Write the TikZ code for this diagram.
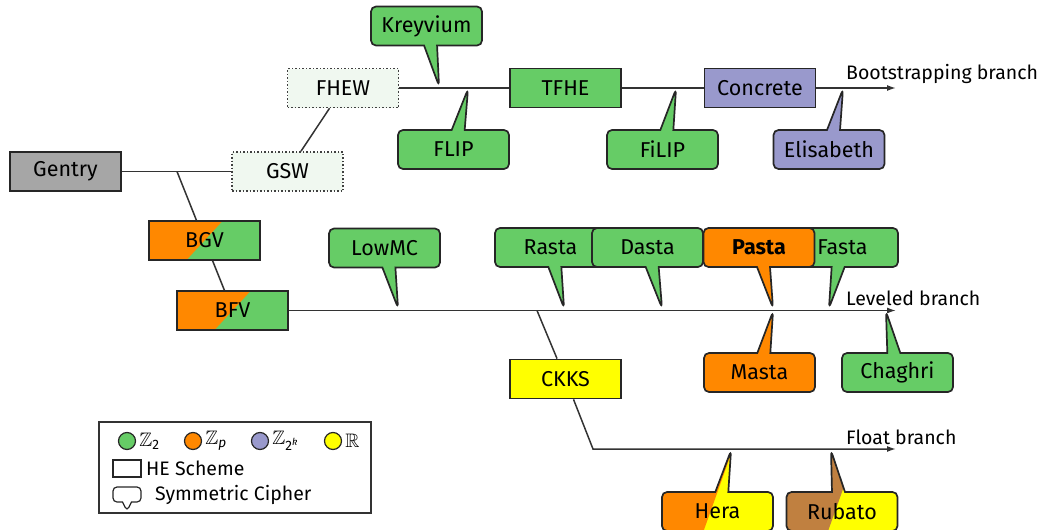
\documentclass[tikz,border=0pt]{standalone}
\usepackage{amsmath}
\usepackage{amssymb}
\usepackage{fontspec}
\setmainfont{Fira Sans}
\usetikzlibrary{shapes.callouts,arrows.meta,calc}

\definecolor{zgreen}{HTML}{66CC66}
\definecolor{zorange}{HTML}{FF8800}
\definecolor{zpurple}{HTML}{9999CC}
\definecolor{zyellow}{HTML}{FFFF00}
\definecolor{zbrown}{HTML}{C08040}
\definecolor{zgray}{HTML}{A6A6A6}
\definecolor{zpale}{HTML}{F0F8F0}

\tikzset{
  scheme/.style={draw=black!85, line width=1.7pt, minimum width=111pt, minimum height=39pt,
    inner sep=0pt, font=\fontsize{21.5}{25}\selectfont},
  newscheme/.style={scheme, draw=black!75, line width=1.5pt, dash pattern=on 1.5pt off 2pt, fill=zpale},
  cipher/.style={rectangle callout, rounded corners=5pt, draw=black!85, line width=1.7pt,
    minimum width=111pt, minimum height=39pt, inner sep=0pt, callout pointer width=13pt,
    fill=zgreen, font=\fontsize{21.5}{25}\selectfont},
  branch/.style={line width=1.5pt, draw=black!80},
  lbl/.style={inner sep=0pt, font=\fontsize{19.5}{23}\selectfont},
  % two colours split by a diagonal
  halves/.style 2 args={fill=#2, path picture={
    \fill[#1, sharp corners] ($(path picture bounding box.center)+(-36,39)$)
      -- ($(path picture bounding box.center)+(36,-39)$) -- ++(-200,0) -- ++(0,78) -- cycle;}},
  halvestip/.style 2 args={fill=#2, path picture={
    \fill[#1, sharp corners] ($(path picture bounding box.south)+(-15,3)$)
      -- ($(path picture bounding box.south)+(15,-81)$) -- ++(-120,0) -- ++(0,84) -- cycle;}},
  dot/.style={circle, draw=black!85, line width=1.2pt, minimum size=17pt, inner sep=0pt},
}

\begin{document}
\begin{tikzpicture}[x=1pt,y=-1pt]
\useasboundingbox (0,0) rectangle (1042,530);
% Draw the HE schemes
\node[scheme, fill=zgray] (gentry) at (65.5,171.5) {Gentry};
\node[newscheme] (gsw) at (287.5,171.5) {GSW};
\node[newscheme] (fhew) at (343,88) {FHEW};
\node[scheme, fill=zgreen] (tfhe) at (565.5,88) {TFHE};
\node[scheme, fill=zpurple] (concrete) at (760,88) {Concrete};
\node[scheme, halves={zorange}{zgreen}] (bgv) at (204.5,240.5) {BGV};
\node[scheme, halves={zorange}{zgreen}] (bfv) at (232.5,310.5) {BFV};
\node[scheme, fill=zyellow] (ckks) at (565.5,379) {CKKS};

% Draw the branches
\coordinate (gentryFork) at (177,171.5);
\coordinate (levFork) at (537,310.5);
\coordinate (floatBend) at (593,449);
\coordinate (bootEnd) at (896,88);
\coordinate (levEnd) at (896,310.5);
\coordinate (floatEnd) at (896,449);
\draw[branch] (gentry) -- (gsw);
\draw[branch] (gentryFork) -- (bgv);
\draw[branch] (bgv) -- (bfv);
\draw[branch] (gsw) -- (fhew);
\draw[branch] (fhew) -- (tfhe);
\draw[branch] (tfhe) -- (concrete);
\draw[branch, -{Latex[length=9pt,width=6pt]}] (concrete) -- (bootEnd);
\draw[branch, -{Latex[length=9pt,width=6pt]}] (bfv) -- (levEnd);
\draw[branch] (levFork) -- (ckks);
\draw[branch, -{Latex[length=9pt,width=6pt]}] (ckks) -- (floatBend) -- (floatEnd);
\node[lbl, anchor=base west] (bootLbl) at (846,79) {Bootstrapping branch};
\node[lbl, anchor=base west] (levLbl) at (846,305) {Leveled branch};
\node[lbl, anchor=base west] (floatLbl) at (846,444) {Float branch};

% Draw the symmetric ciphers
\node[cipher, callout absolute pointer={(439,86)}] (kreyvium) at (426.5,26) {Kreyvium};
\node[cipher, callout absolute pointer={(468,89)}] (flip) at (453.5,149.5) {FLIP};
\node[cipher, callout absolute pointer={(676,89)}] (filip) at (662.5,149.5) {FiLIP};
\node[cipher, fill=zpurple, callout absolute pointer={(843,89)}] (elisabeth) at (829,149.5) {Elisabeth};
\node[cipher, callout absolute pointer={(398,308)}] (lowmc) at (384.5,248) {LowMC};
\node[cipher, callout absolute pointer={(564,308)}] (rasta) at (550.5,247.5) {Rasta};
\node[cipher, callout absolute pointer={(829,308)}] (fasta) at (842.5,247.5) {Fasta};
\node[cipher, callout absolute pointer={(662,308)}] (dasta) at (647.5,247.5) {Dasta};
\node[cipher, fill=zorange, callout absolute pointer={(773,308)}] (pasta) at (759,247.5) {\bfseries Pasta};
\node[cipher, fill=zorange, callout absolute pointer={(773,311.5)}] (masta) at (759.5,372.5) {Masta};
\node[cipher, callout absolute pointer={(886,311.5)}] (chaghri) at (897.5,372.5) {Chaghri};
\node[cipher, halvestip={zorange}{zyellow}, callout absolute pointer={(731,450.5)}] (hera) at (717.5,511.5) {Hera};
\node[cipher, halvestip={zbrown}{zyellow}, callout absolute pointer={(831,450.5)}] (rubato) at (842,511.5) {Rubato};

% Draw the legend
\node[draw=black!80, line width=1.3pt, minimum width=272pt, minimum height=91pt] (legend) at (235,467.5) {};
\foreach \cx/\col/\nm/\lab in {127/zgreen/two/{$\mathbb{Z}_{\text{2}}$},
    193/zorange/p/{$\mathbb{Z}_{\textit{p}}$},
    260/zpurple/twok/{$\mathbb{Z}_{\text{2}^{\textit{k}}}$},
    333/zyellow/real/{$\mathbb{R}$}}
{
\node[dot, fill=\col] (dot\nm) at (\cx,441) {};
\node[lbl, anchor=west, xshift=3pt] (key\nm) at (dot\nm.east) {\lab};
}
\node[draw=black!85, line width=1.2pt, minimum width=28pt, minimum height=17pt, inner sep=0pt] (keyScheme) at (127,468.5) {};
\node[lbl, anchor=west] (keySchemeLbl) at (146,468.5) {HE Scheme};
\node[rectangle callout, rounded corners=4pt, draw=black!85, line width=1.2pt, minimum width=28pt,
  minimum height=15pt, inner sep=0pt, callout pointer width=9pt,
  callout absolute pointer={(127,511)}] (keyCipher) at (127,494.5) {};
\node[lbl, anchor=west] (keyCipherLbl) at (155,494.5) {Symmetric Cipher};
\end{tikzpicture}
\end{document}
